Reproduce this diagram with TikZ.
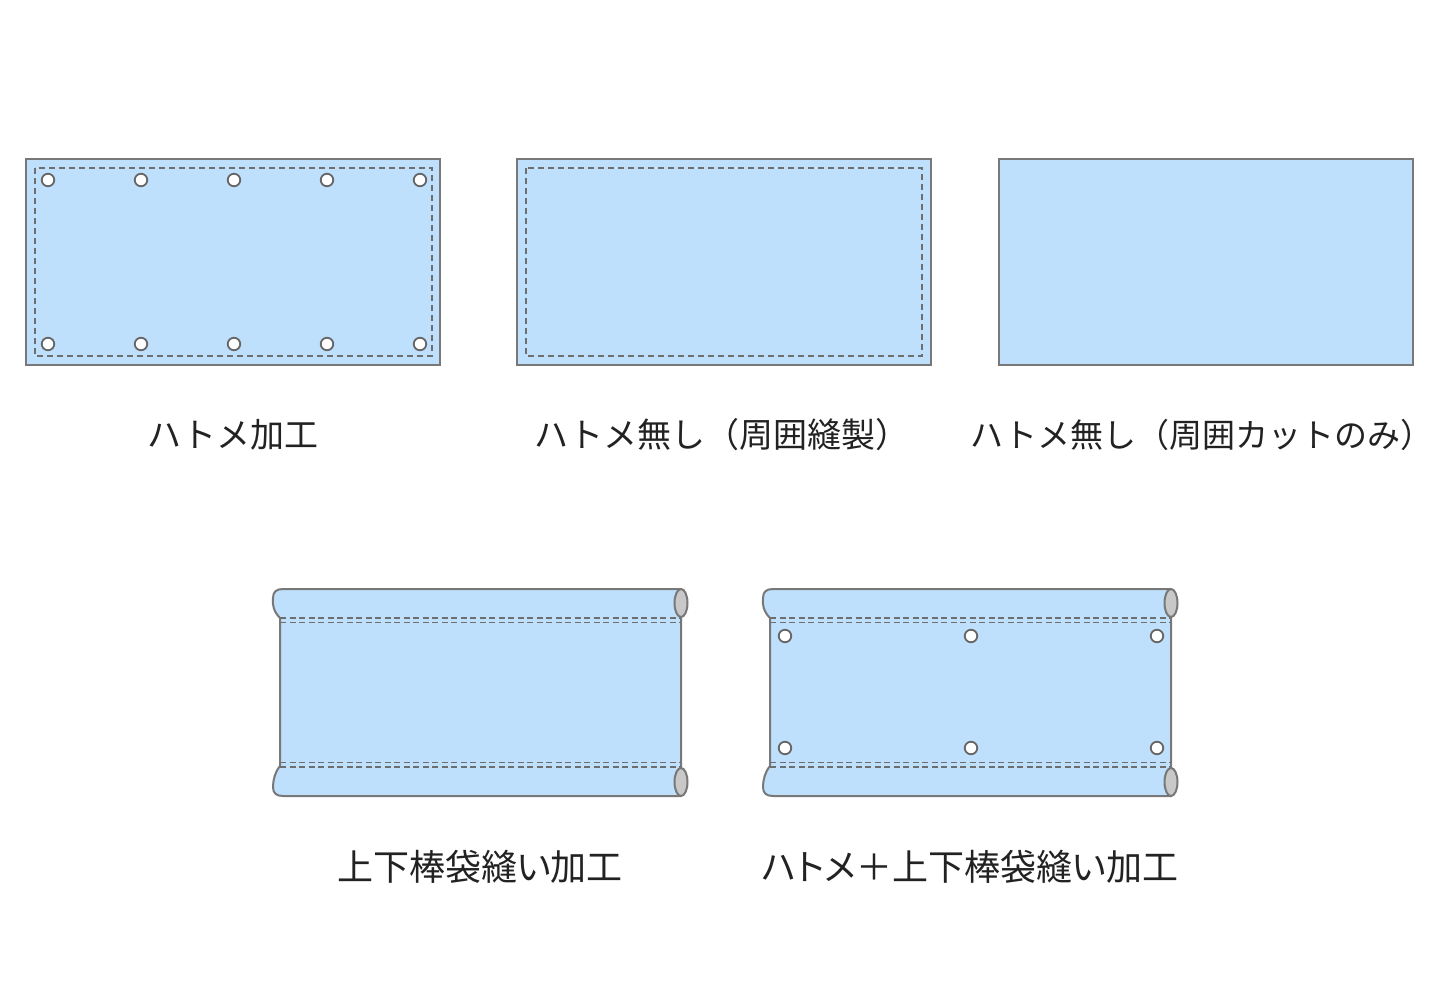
\documentclass[tikz,border=0pt]{standalone}
\usepackage{fontspec}
\newfontfamily\cjk{Noto Sans CJK JP}
\newfontfamily\cjkp[RawFeature=+palt]{Noto Sans CJK JP}
\definecolor{cloth}{HTML}{BEE0FC}
\definecolor{edge}{HTML}{787878}
\definecolor{dash}{HTML}{6E6E6E}
\definecolor{rollc}{HTML}{C8C8C8}
\definecolor{ink}{HTML}{222222}
\tikzset{
  panel/.style={fill=cloth,draw=edge,line width=2pt},
  stitch/.style={draw=dash,line width=1.1pt,dash pattern=on 6pt off 4pt},
  stitchb/.style={draw=dash,line width=1.3pt,dash pattern=on 6pt off 3.5pt},
  grommet/.style={circle,fill=white,draw=edge!85!black,line width=1.8pt,minimum size=12.5pt,inner sep=0pt},
  roll/.style={fill=rollc,draw=edge,line width=2pt},
  lbl/.style={font=\cjk\fontsize{34}{40}\selectfont,text=ink,inner sep=0pt,anchor=center},
  lblb/.style={font=\cjkp\fontsize{36}{42}\selectfont,text=ink,inner sep=0pt,anchor=center}
}
\newcommand{\polebanner}[1]{%
  \begin{scope}[xshift=#1pt]
    \draw[panel,line join=round]
      (280,618) .. controls (274,612) and (272,605) .. (273,598)
      .. controls (273,592) and (276,589) .. (283,589)
      -- (681,589) -- (681,796) -- (283,796)
      .. controls (276,796) and (273,793) .. (273,787)
      .. controls (273,780) and (275,772) .. (280,766) -- cycle;
    \draw[stitchb] (280,618) -- (681,618);
    \draw[stitchb] (280,622.5) -- (681,622.5);
    \draw[stitchb] (280,762.5) -- (681,762.5);
    \draw[stitchb] (280,767) -- (681,767);
    \draw[roll] (681,603) ellipse [x radius=6.5, y radius=14];
    \draw[roll] (681,782) ellipse [x radius=6.5, y radius=14];
  \end{scope}}
\begin{document}
\begin{tikzpicture}[x=1pt,y=-1pt]
\useasboundingbox[fill=white] (0,0) rectangle (1440,1000);
% panel 1: grommets
\draw[panel] (26,159) rectangle (440,365);
\draw[stitch] (35,168) rectangle (432,356);
\foreach \i/\x in {1/48,2/141,3/234,4/327,5/420}{
  \node[grommet] (gt\i) at (\x,180) {};
  \node[grommet] (gb\i) at (\x,344) {};
}
% panel 2: sewn hem
\draw[panel] (517,159) rectangle (931,365);
\draw[stitch] (526,168) rectangle (922,356);
% panel 3: cut only
\draw[panel] (999,159) rectangle (1413,365);
% labels top
\node[lbl] (l1) at (233,435) {ハトメ加工};
\node[lbl] (l2) at (722,435) {ハトメ無し（周囲縫製）};
\node[lbl,font=\cjk\fontsize{33}{40}\selectfont] (l3) at (1202,435) {ハトメ無し（周囲カットのみ）};
% bottom banners
\polebanner{0}
\polebanner{490}
\foreach \i/\x in {1/785,2/971,3/1157}{
  \node[grommet] (pt\i) at (\x,636) {};
  \node[grommet] (pb\i) at (\x,748) {};
}
\node[lblb] (l4) at (480,867) {上下棒袋縫い加工};
\node[lblb] (l5) at (970,867) {ハトメ＋上下棒袋縫い加工};
\end{tikzpicture}
\end{document}
